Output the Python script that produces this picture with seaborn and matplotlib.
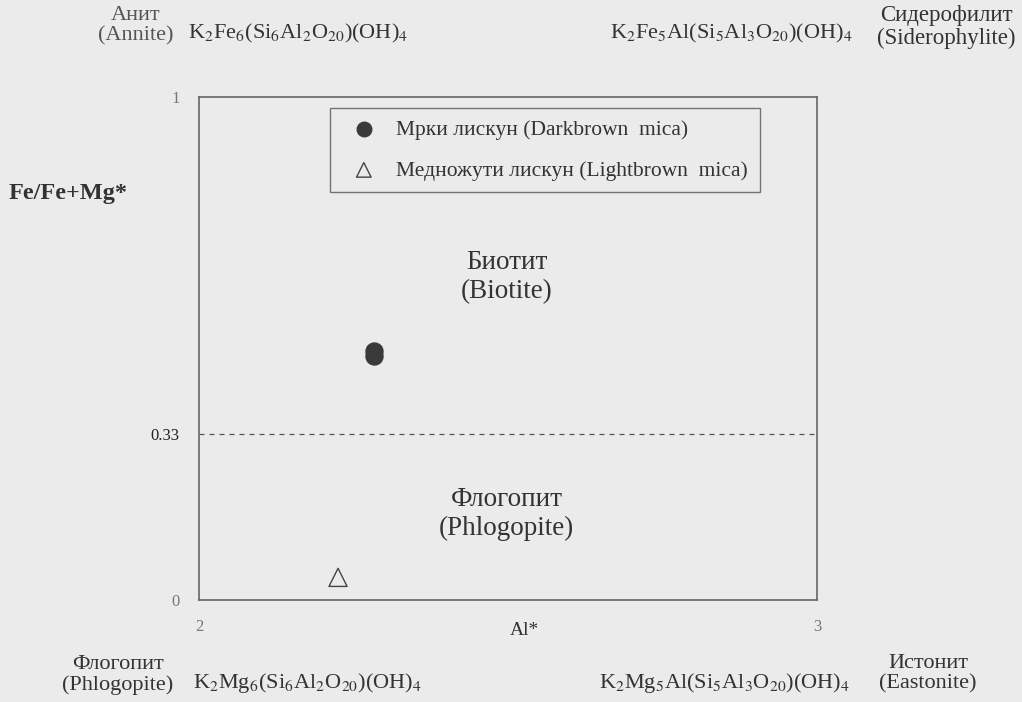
import pandas as pd
import matplotlib.pyplot as plt
import seaborn as sns

# Mica compositions (Al* vs Fe/Fe+Mg*)
dark_al = [2.283, 2.283]
dark_fe = [0.486, 0.496]
light_al = [2.225]
light_fe = [0.045]

dark_label = 'Мрки лискун (Darkbrown  mica)'
light_label = 'Медножути лискун (Lightbrown  mica)'

x_ticks = [2, 3]
y_ticks = [0, 0.33, 1]
y_tick_labels = ['0', '0.33', '1']
boundary = 0.33

sns.set_style('white')
plt.rcParams.update({'font.family': ['Liberation Serif', 'DejaVu Serif'],
                     'mathtext.fontset': 'stix',
                     'figure.facecolor': '#ebebeb',
                     'axes.facecolor': '#ebebeb',
                     'text.color': '#333333'})

fig = plt.figure(figsize=(10.22, 7.02), dpi=100)
ax = fig.add_axes([0.1947, 0.1453, 0.6047, 0.7165])

df_dark = pd.DataFrame({'al': dark_al, 'fe': dark_fe})
df_light = pd.DataFrame({'al': light_al, 'fe': light_fe})

sns.scatterplot(data=df_dark, x='al', y='fe', ax=ax, marker='o', s=150,
                color='#3a3a3a', edgecolor='#3a3a3a', label=dark_label)
sns.scatterplot(data=df_light, x='al', y='fe', ax=ax, marker='^', s=170,
                facecolor='none', edgecolor='#444444', linewidth=1, label=light_label)

ax.axhline(boundary, color='#555555', linestyle=(0, (4, 4)), linewidth=0.9)

ax.set_xlim(2, 3)
ax.set_ylim(0, 1)
ax.set_xticks(x_ticks)
ax.set_xticklabels([str(t) for t in x_ticks], color='#777777', fontsize=12)
ax.set_yticks(y_ticks)
ax.set_yticklabels(y_tick_labels, fontsize=12)
for lab in ax.get_yticklabels():
    lab.set_color('#222222' if lab.get_text() == '0.33' else '#777777')
ax.tick_params(length=0, pad=14)
ax.set_xlabel('')
ax.set_ylabel('')
for s in ax.spines.values():
    s.set_color('#666666')
    s.set_linewidth(1.2)

leg = ax.legend(loc='upper center', bbox_to_anchor=(0.56, 0.978), fontsize=15.5,
                frameon=True, fancybox=False, edgecolor='#555555', borderaxespad=0,
                facecolor='#ebebeb', borderpad=0.55, labelspacing=0.95, handletextpad=0.5)
leg.get_frame().set_linewidth(1)
for h in leg.legend_handles:
    h.set_sizes([110])

# Field names
ax.text(2.498, 0.642, 'Биотит\n(Biotite)', ha='center', va='center', fontsize=19.5,
        linespacing=1.25)
ax.text(2.498, 0.171, 'Флогопит\n(Phlogopite)', ha='center', va='center', fontsize=19.5,
        linespacing=1.25)

# Axis titles
fig.text(0.008, 0.725, 'Fe/Fe+Mg*', fontsize=17.5, fontweight='bold', ha='left', va='center')
fig.text(0.513, 0.102, 'Al*', fontsize=14, ha='center', va='center')

# End-member labels
fig.text(0.133, 0.963, 'Анит\n(Annite)', fontsize=16, ha='center', va='center',
         color='#555555', linespacing=1.1)
fig.text(0.184, 0.953, r'K$_2$Fe$_6$(Si$_6$Al$_2$O$_{20}$)(OH)$_4$', fontsize=16,
         ha='left', va='center')
fig.text(0.597, 0.953, r'K$_2$Fe$_5$Al(Si$_5$Al$_3$O$_{20}$)(OH)$_4$', fontsize=16,
         ha='left', va='center')
fig.text(0.926, 0.962, 'Сидерофилит\n(Siderophylite)', fontsize=16.5, ha='center',
         va='center', linespacing=1.1)
fig.text(0.115, 0.038, 'Флогопит\n(Phlogopite)', fontsize=16, ha='center',
         va='center', linespacing=1.1)
fig.text(0.189, 0.027, r'K$_2$Mg$_6$(Si$_6$Al$_2$O$_{20}$)(OH)$_4$', fontsize=16,
         ha='left', va='center')
fig.text(0.586, 0.027, r'K$_2$Mg$_5$Al(Si$_5$Al$_3$O$_{20}$)(OH)$_4$', fontsize=16,
         ha='left', va='center')
fig.text(0.908, 0.040, 'Истонит\n(Eastonite)', fontsize=16, ha='center',
         va='center', linespacing=1.1)

fig.savefig('out.png', dpi=100)
